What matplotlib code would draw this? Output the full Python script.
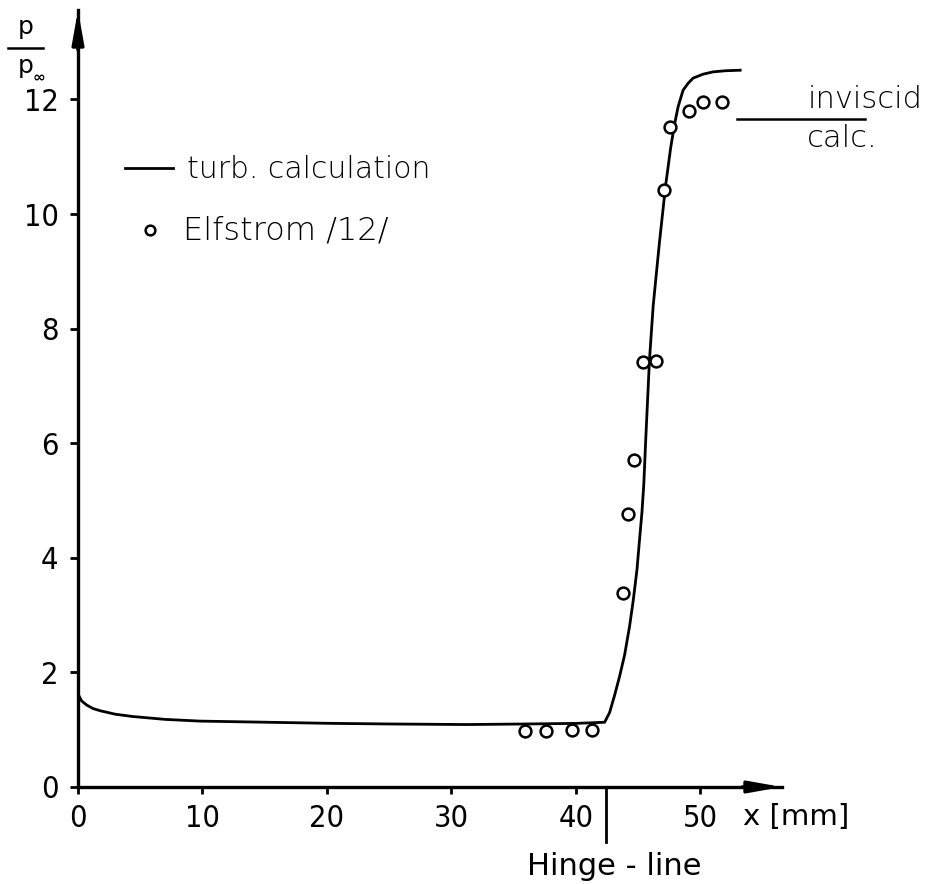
import matplotlib
matplotlib.use("Agg")
import matplotlib.pyplot as plt
from matplotlib.lines import Line2D

# ---------------- data ----------------
calc_x = [0.0, 0.3, 0.7, 1.2, 1.8, 3.0, 4.4, 7.0, 9.8, 15.2, 20.5, 25.0, 31.2,
          36.0, 40.0, 42.3, 42.7, 43.1, 43.5, 43.9, 44.3, 44.6, 44.9, 45.1,
          45.3, 45.45, 45.6, 45.9, 46.2, 46.7, 47.2, 47.6, 47.9, 48.2, 48.6,
          49.0, 49.4, 50.2, 51.0, 52.0, 53.3]
calc_y = [1.62, 1.50, 1.43, 1.37, 1.33, 1.27, 1.23, 1.18, 1.15, 1.13, 1.11,
          1.10, 1.09, 1.10, 1.11, 1.13, 1.30, 1.60, 1.93, 2.30, 2.80, 3.26,
          3.80, 4.31, 4.80, 5.30, 6.06, 7.45, 8.40, 9.50, 10.50, 11.15, 11.55,
          11.87, 12.16, 12.28, 12.37, 12.44, 12.48, 12.50, 12.51]

exp_x = [35.9, 37.6, 39.65, 41.3, 43.75, 44.15, 44.66, 45.4, 46.4,
         47.1, 47.55, 49.1, 50.2, 51.7]
exp_y = [0.97, 0.98, 0.99, 0.99, 3.39, 4.76, 5.70, 7.42, 7.44,
         10.42, 11.52, 11.80, 11.95, 11.95]

x_ticks = [0, 10, 20, 30, 40, 50]
y_ticks = [0, 2, 4, 6, 8, 10, 12]
hinge_x = 42.4
inviscid_y = 11.66

legend_line_label = "turb. calculation"
legend_point_label = "Elfstrom /12/"
x_label = "x [mm]"
hinge_label = "Hinge - line"
inviscid_top = "inviscid"
inviscid_bottom = "calc."

# ---------------- figure ----------------
W, H = 937, 884
fig = plt.figure(figsize=(W / 100, H / 100), dpi=100)
fig.patch.set_facecolor("white")

left_px, right_px, bottom_px, top_px = 78, 782, 787, 10
ax = fig.add_axes([left_px / W, (H - bottom_px) / H,
                   (right_px - left_px) / W, (bottom_px - top_px) / H])
ax.set_xlim(0, (right_px - left_px) / 12.45)
ax.set_ylim(0, (bottom_px - top_px) / 57.3)

for s in ["top", "right"]:
    ax.spines[s].set_visible(False)
for s in ["left", "bottom"]:
    ax.spines[s].set_linewidth(2.4)
    ax.spines[s].set_color("black")

ax.set_xticks(x_ticks)
ax.set_yticks(y_ticks)
ax.set_xticklabels([str(v) for v in x_ticks], fontsize=22,
                   family="DejaVu Sans", stretch="condensed")
ax.set_yticklabels([str(v) for v in y_ticks], fontsize=22,
                   family="DejaVu Sans", stretch="condensed")
ax.tick_params(axis="x", direction="out", length=5, width=2, pad=7)
ax.tick_params(axis="y", direction="out", length=6, width=2, pad=8)

# arrow heads on the axes
arrow_props = dict(arrowstyle="-|>,head_length=0.9,head_width=0.16",
                   color="black", lw=2.4, mutation_scale=22, shrinkA=0, shrinkB=0)
ax.annotate("", xy=(1, 0), xycoords="axes fraction", xytext=(-40, 0),
            textcoords="offset pixels", arrowprops=arrow_props,
            annotation_clip=False)
ax.annotate("", xy=(0, 1), xycoords="axes fraction", xytext=(0, -40),
            textcoords="offset pixels", arrowprops=arrow_props,
            annotation_clip=False)

# data
ax.plot(calc_x, calc_y, color="black", lw=2.0, clip_on=False,
        solid_capstyle="butt", zorder=3)
ax.plot(exp_x, exp_y, linestyle="none", marker="o", markersize=8.5,
        markerfacecolor="white", markeredgecolor="black",
        markeredgewidth=1.8, clip_on=False, zorder=4)

text_font = "DejaVu Sans"
# legend (manual)
ax.plot([3.8, 7.6], [10.80, 10.80], color="black", lw=2.0)
ax.text(8.75, 10.77, legend_line_label, fontsize=21.5, family=text_font,
        weight="light", ha="left", va="center")
ax.plot([5.8], [9.72], linestyle="none", marker="o", markersize=7,
        markerfacecolor="white", markeredgecolor="black", markeredgewidth=1.8)
ax.text(8.43, 9.72, legend_point_label, fontsize=23, family=text_font,
        weight="light", ha="left", va="center")

# inviscid calc. annotation
ax.plot([52.9, 63.2], [inviscid_y, inviscid_y], color="black", lw=1.8,
        clip_on=False)
ax.text(58.6, 12.0, inviscid_top, fontsize=22, family=text_font,
        weight="light", ha="left", va="center", clip_on=False)
ax.text(58.55, 11.32, inviscid_bottom, fontsize=22, family=text_font,
        weight="light", ha="left", va="center", clip_on=False)

# hinge line
ax.plot([hinge_x, hinge_x], [0, -0.96], color="black", lw=2.0, clip_on=False)
ax.text(43.1, -1.38, hinge_label, fontsize=22, family=text_font,
        ha="center", va="center", clip_on=False)

# x-axis label
ax.text(53.4, -0.52, x_label, fontsize=21, family=text_font,
        ha="left", va="center", clip_on=False)

# y-axis label p / p_inf
def fx(px):
    return px / W

def fy(py):
    return 1 - py / H

fig.text(fx(26), fy(27), "p", fontsize=18, family=text_font,
         ha="center", va="center")
fig.add_artist(Line2D([fx(8), fx(43)], [fy(48), fy(48)], color="black",
                      lw=1.8, transform=fig.transFigure))
fig.text(fx(26), fy(66), "p", fontsize=18, family=text_font,
         ha="center", va="center")
fig.text(fx(39), fy(77), "∞", fontsize=11, family=text_font,
         weight="bold", ha="center", va="center")

fig.savefig("out.png", dpi=100, facecolor="white")
